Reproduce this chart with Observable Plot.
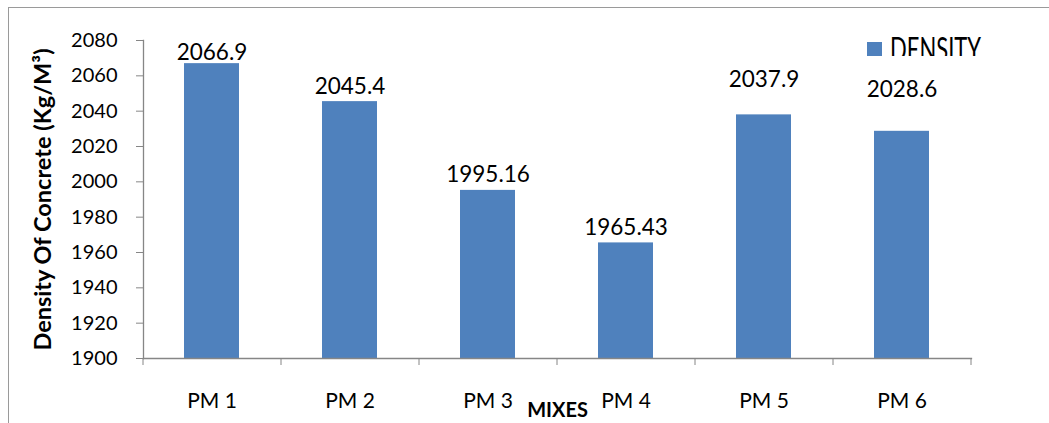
<!DOCTYPE html>
<html>
<head>
<meta charset="utf-8">
<script src="https://cdn.jsdelivr.net/npm/d3@7"></script>
<script src="https://cdn.jsdelivr.net/npm/@observablehq/plot@0.6"></script>
<style>
  body { margin: 0; background: #fff; }
  #wrap { position: relative; width: 1049px; height: 423px; overflow: hidden; font-family: Lato, sans-serif; background: #fff; }
  #border { position: absolute; left: 8px; top: 7px; width: 1100px; height: 500px; border: 1.5px solid #9a9a9a; box-sizing: border-box; }
  #chart { position: absolute; left: 0; top: 0; }
  #legend-swatch { position: absolute; left: 867px; top: 42px; width: 15px; height: 14px; background: #4F81BD; }
  #legend-clip { position: absolute; left: 890px; top: 36px; height: 20px; width: 120px; overflow: hidden; }
  #legend-text { font-size: 22px; line-height: 22px; color: #000; white-space: nowrap; transform: scale(1, 1.45); transform-origin: 0 5px; }
</style>
</head>
<body>
<div id="wrap">
  <div id="border"></div>
  <div id="chart"></div>
  <div id="legend-swatch"></div>
  <div id="legend-clip"><div id="legend-text"></div></div>
</div>
<script>
// ---- data ----
const mixes = ["PM 1", "PM 2", "PM 3", "PM 4", "PM 5", "PM 6"];
const density = [2066.9, 2045.4, 1995.16, 1965.43, 2037.9, 2028.6];
const densityLabels = ["2066.9", "2045.4", "1995.16", "1965.43", "2037.9", "2028.6"];
const yTicks = [1900, 1920, 1940, 1960, 1980, 2000, 2020, 2040, 2060, 2080];
const seriesName = "DENSITY";
const xTitle = "MIXES";
const yTitle = "Density Of Concrete (Kg/M³)";

// ---- style ----
const W = 1049, H = 423;
const mL = 143, mR = 78, mT = 40, mB = 65;
const halfStep = (W - mL - mR) / mixes.length / 2;
const barColor = "#4F81BD";
const axisColor = "#868686";
// label vertical offsets (style only)
const labelDy = {"PM 1": -4, "PM 5": -28, "PM 6": -34};
const defaultDy = -8;

const rows = mixes.map((m, i) => ({mix: m, value: density[i], label: densityLabels[i]}));
const dyOf = r => labelDy[r.mix] ?? defaultDy;
const dyGroups = Array.from(new Set(rows.map(dyOf)));

document.getElementById("legend-text").textContent = seriesName;

const chart = Plot.plot({
  width: W,
  height: H,
  marginLeft: mL,
  marginRight: mR,
  marginTop: mT,
  marginBottom: mB,
  style: {fontFamily: "Lato, sans-serif", color: "#000", background: "transparent", overflow: "visible"},
  x: {domain: mixes, paddingInner: 0.6, paddingOuter: 0.3},
  y: {domain: [yTicks[0], yTicks[yTicks.length - 1]]},
  marks: [
    Plot.barY(rows, {x: "mix", y1: yTicks[0], y2: "value", fill: barColor}),
    Plot.frame({anchor: "left", stroke: axisColor, strokeWidth: 1.3}),
    Plot.frame({anchor: "bottom", stroke: axisColor, strokeWidth: 1.3}),
    Plot.axisY({ticks: yTicks, tickFormat: d => String(d), tickSize: 7, tickPadding: 19, fontSize: 20, stroke: axisColor, label: null}),
    Plot.axisX({tickSize: 0, tickPadding: 35, fontSize: 21, label: null}),
    Plot.axisX({tickSize: 7, text: null, dx: -halfStep, stroke: axisColor, label: null}),
    Plot.axisX({ticks: [mixes[mixes.length - 1]], tickSize: 7, text: null, dx: halfStep, stroke: axisColor, label: null}),
    ...dyGroups.map(d => Plot.text(rows.filter(r => dyOf(r) === d), {
      x: "mix", y: "value", text: "label", dy: d, lineAnchor: "bottom", fontSize: 22.5, fill: "#000"
    })),
    Plot.text([yTitle], {frameAnchor: "left", textAnchor: "middle", rotate: -90, dx: -100, fontWeight: "bold", fontSize: 23.5, fill: "#000"}),
    Plot.text([xTitle], {frameAnchor: "bottom", dy: 58, lineAnchor: "bottom", fontWeight: "bold", fontSize: 20, fill: "#000"})
  ]
});
document.getElementById("chart").appendChild(chart);
</script>
</body>
</html>
